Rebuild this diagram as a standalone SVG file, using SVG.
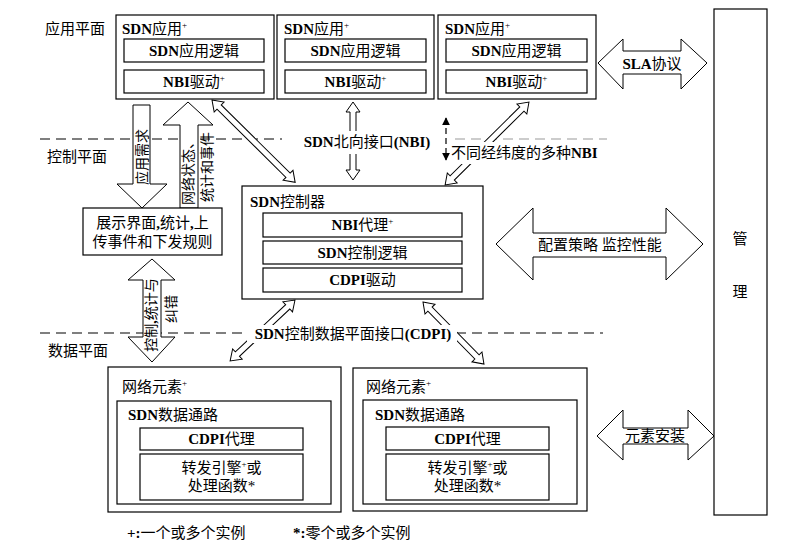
<svg xmlns="http://www.w3.org/2000/svg" width="790" height="551" viewBox="0 0 790 551">
  <style>
    .box { fill: #fff; stroke: #000; stroke-width: 1.2; }
    .arr { fill: #fff; stroke: #000; stroke-width: 1; stroke-linejoin: miter; }
    .dash { stroke: #000; stroke-width: 1.2; stroke-dasharray: 10 6; fill: none; }
    text { font-family: "Liberation Serif", "Noto Sans CJK SC", serif; font-size: 15px; fill: #000; }
    .c { text-anchor: middle; }
    .b { font-weight: bold; }
    .sup { font-size: 9px; }
    .lbl { font-size: 14px; }
  </style>
  <defs>
    <marker id="tri" viewBox="0 0 10 10" refX="9" refY="5" markerWidth="8" markerHeight="8" orient="auto-start-reverse" markerUnits="userSpaceOnUse">
      <path d="M0,0 L10,5 L0,10 Z" fill="#000"/>
    </marker>
  </defs>

  <rect width="790" height="551" fill="#fff"/>

  <!-- plane labels and separators -->
  <g id="planes">
    <text x="45" y="34">应用平面</text>
    <text x="47" y="162">控制平面</text>
    <text x="48" y="356">数据平面</text>
    <line class="dash" x1="40" y1="139" x2="282" y2="139"/>
    <line class="dash" x1="455" y1="139" x2="607" y2="139" stroke="#999" style="stroke:#999"/>
    <line class="dash" x1="40" y1="333" x2="603" y2="333"/>
  </g>

  <!-- connectors -->
  <g id="connectors">
    <!-- app requirements down -->
    <path class="arr" d="M133,105 H150 V184 H167 L142,208 L117,184 H133 Z"/>
    <!-- network state up -->
    <path class="arr" d="M188,102 L213,125 H198 V208 H180 V125 H163 Z"/>
    <!-- control/statistics double arrow -->
    <path class="arr" d="M152,259 L175,280 H161 V337 H175 L152,362 L128,337 H143 V280 H128 Z"/>
    <!-- thin double arrows -->
    <path class="arr" transform="translate(212,100) rotate(44.7)" d="M0,0 L10,-7 L10,-3 L107,-3 L107,-7 L117,0 L107,7 L107,3 L10,3 L10,7 Z"/>
    <path class="arr" transform="translate(353,102) rotate(90)" d="M0,0 L10,-7 L10,-3 L68,-3 L68,-7 L78,0 L68,7 L68,3 L10,3 L10,7 Z"/>
    <path class="arr" transform="translate(529,102) rotate(135.3)" d="M0,0 L10,-7 L10,-3 L108,-3 L108,-7 L118,0 L108,7 L108,3 L10,3 L10,7 Z"/>
    <path class="arr" transform="translate(295,300) rotate(136.8)" d="M0,0 L10,-7 L10,-3 L79,-3 L79,-7 L89,0 L79,7 L79,3 L10,3 L10,7 Z"/>
    <path class="arr" transform="translate(423,302) rotate(45.5)" d="M0,0 L10,-7 L10,-3 L77,-3 L77,-7 L87,0 L77,7 L77,3 L10,3 L10,7 Z"/>
    <!-- dashed NBI arrow -->
    <line x1="446" y1="118" x2="446" y2="160" stroke="#000" stroke-width="1.2" stroke-dasharray="6 4" marker-start="url(#tri)" marker-end="url(#tri)"/>
    <!-- management double arrows -->
    <path class="arr" d="M598,63 L623,39 V51 H681 V39 L707,63 L681,89 V74 H623 V89 Z"/>
    <path class="arr" d="M496,244 L533,208 V233 H666 V208 L703,244 L666,280 V257 H533 V280 Z"/>
    <path class="arr" d="M597,436 L623,410 V428 H688 V410 L714,436 L688,460 V444 H623 V460 Z"/>

    <!-- arrow labels -->
    <text class="c lbl" transform="translate(142,157) rotate(-90)" dy="5">应用需求</text>
    <text class="c lbl" transform="translate(188,170) rotate(-90)" dy="5">网络状态、</text>
    <text class="c lbl" transform="translate(207,167) rotate(-90)" dy="5">统计和事件</text>
    <text class="c lbl" transform="translate(151,315) rotate(-90)" dy="5">控制<tspan class="b">,</tspan>统计与</text>
    <text class="c lbl" transform="translate(171,309) rotate(-90)" dy="5">纠错</text>

    <rect x="296" y="131" width="140" height="23" fill="#fff"/>
    <text class="c" x="367" y="147"><tspan class="b">SDN</tspan>北向接口<tspan class="b">(NBI)</tspan></text>

    <rect x="451" y="142" width="150" height="22" fill="#fff"/>
    <text x="451" y="158">不同经纬度的多种<tspan class="b">NBI</tspan></text>

    <rect x="247" y="325" width="210" height="18" fill="#fff"/>
    <text class="c" x="353" y="339"><tspan class="b">SDN</tspan>控制数据平面接口<tspan class="b">(CDPI)</tspan></text>

    <text class="c" x="652" y="69"><tspan class="b">SLA</tspan>协议</text>
    <text class="c" x="600" y="250">配置策略 监控性能</text>
    <text class="c" x="655" y="441">元素安装</text>
  </g>

  <!-- application plane -->
  <g id="app1">
    <rect class="box" x="116" y="15" width="158" height="84"/>
    <text x="122" y="34"><tspan class="b">SDN</tspan>应用<tspan class="sup" dy="-6">+</tspan></text>
    <rect class="box" x="124" y="39" width="140" height="23"/>
    <text class="c" x="194" y="56"><tspan class="b">SDN</tspan>应用逻辑</text>
    <rect class="box" x="124" y="70" width="140" height="23"/>
    <text class="c" x="194" y="87"><tspan class="b">NBI</tspan>驱动<tspan class="sup" dy="-6">+</tspan></text>
  </g>
  <g id="app2">
    <rect class="box" x="277" y="15" width="157" height="84"/>
    <text x="284" y="34"><tspan class="b">SDN</tspan>应用<tspan class="sup" dy="-6">+</tspan></text>
    <rect class="box" x="285" y="39" width="141" height="23"/>
    <text class="c" x="355.5" y="56"><tspan class="b">SDN</tspan>应用逻辑</text>
    <rect class="box" x="285" y="70" width="141" height="23"/>
    <text class="c" x="355.5" y="87"><tspan class="b">NBI</tspan>驱动<tspan class="sup" dy="-6">+</tspan></text>
  </g>
  <g id="app3">
    <rect class="box" x="438" y="15" width="158" height="84"/>
    <text x="445" y="34"><tspan class="b">SDN</tspan>应用<tspan class="sup" dy="-6">+</tspan></text>
    <rect class="box" x="446" y="39" width="141" height="23"/>
    <text class="c" x="516.5" y="56"><tspan class="b">SDN</tspan>应用逻辑</text>
    <rect class="box" x="446" y="70" width="141" height="23"/>
    <text class="c" x="516.5" y="87"><tspan class="b">NBI</tspan>驱动<tspan class="sup" dy="-6">+</tspan></text>
  </g>

  <!-- presentation box -->
  <g id="ui">
    <rect class="box" x="83" y="208" width="139" height="47"/>
    <text class="c" x="152.5" y="228">展示界面<tspan class="b">,</tspan>统计<tspan class="b">,</tspan>上</text>
    <text class="c" x="152.5" y="247">传事件和下发规则</text>
  </g>

  <!-- controller -->
  <g id="controller">
    <rect class="box" x="242" y="186" width="241" height="113"/>
    <text x="250" y="207"><tspan class="b">SDN</tspan>控制器</text>
    <rect class="box" x="263" y="213" width="199" height="24"/>
    <text class="c" x="362.5" y="230"><tspan class="b">NBI</tspan>代理<tspan class="sup" dy="-6">+</tspan></text>
    <rect class="box" x="263" y="241" width="199" height="23"/>
    <text class="c" x="362.5" y="258"><tspan class="b">SDN</tspan>控制逻辑</text>
    <rect class="box" x="263" y="268" width="199" height="24"/>
    <text class="c" x="362.5" y="285"><tspan class="b">CDPI</tspan>驱动</text>
  </g>

  <!-- network elements -->
  <g id="ne1">
    <rect class="box" x="108" y="367" width="233" height="145"/>
    <text x="122" y="392">网络元素<tspan class="sup" dy="-6">+</tspan></text>
    <rect class="box" x="117" y="401" width="214" height="103"/>
    <text x="128" y="420"><tspan class="b">SDN</tspan>数据通路</text>
    <rect class="box" x="140" y="428" width="163" height="22"/>
    <text class="c" x="221.5" y="444"><tspan class="b">CDPI</tspan>代理</text>
    <rect class="box" x="140" y="454" width="163" height="46"/>
    <text class="c" x="221.5" y="473">转发引擎<tspan class="sup" dy="-6">+</tspan><tspan dy="6">或</tspan></text>
    <text class="c" x="221.5" y="491">处理函数*</text>
  </g>
  <g id="ne2">
    <rect class="box" x="353" y="368" width="234" height="143"/>
    <text x="366" y="392">网络元素<tspan class="sup" dy="-6">+</tspan></text>
    <rect class="box" x="363" y="400" width="214" height="104"/>
    <text x="375" y="420"><tspan class="b">SDN</tspan>数据通路</text>
    <rect class="box" x="386" y="427" width="163" height="23"/>
    <text class="c" x="467.5" y="444"><tspan class="b">CDPI</tspan>代理</text>
    <rect class="box" x="386" y="454" width="163" height="46"/>
    <text class="c" x="467.5" y="473">转发引擎<tspan class="sup" dy="-6">+</tspan><tspan dy="6">或</tspan></text>
    <text class="c" x="467.5" y="491">处理函数*</text>
  </g>

  <!-- management -->
  <g id="mgmt">
    <rect class="box" x="714" y="9" width="53" height="506"/>
    <text class="c" x="740" y="244">管</text>
    <text class="c" x="740" y="297">理</text>
  </g>

  <!-- legend -->
  <g id="legend">
    <text x="127" y="538"><tspan class="b">+:</tspan>一个或多个实例</text>
    <text x="293" y="538"><tspan class="b">*:</tspan>零个或多个实例</text>
  </g>
</svg>
